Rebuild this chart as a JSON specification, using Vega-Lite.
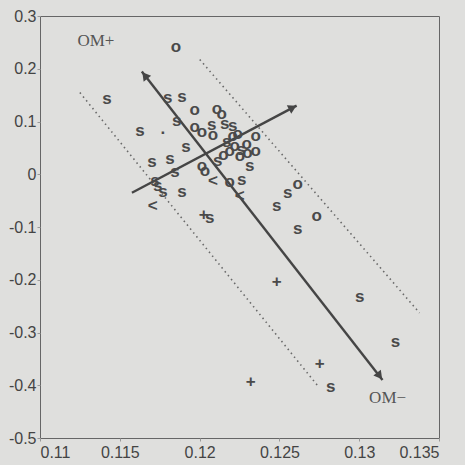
{
  "$schema": "https://vega.github.io/schema/vega-lite/v6.json",
  "width": 399,
  "height": 422,
  "autosize": "none",
  "padding": {"left": 40, "top": 16, "right": 26, "bottom": 27},
  "background": "#dfdfdd",
  "view": {"stroke": "#666666", "strokeWidth": 1},
  "config": {
    "axis": {
      "domain": false,
      "grid": false,
      "labelFont": "Liberation Sans",
      "labelFontSize": 16,
      "labelColor": "#444444",
      "tickColor": "#999999",
      "tickSize": 3,
      "title": null
    }
  },
  "datasets": {
    "pts": [
      {"x": 0.11851, "y": 0.2402, "sym": "o"},
      {"x": 0.11419, "y": 0.1415, "sym": "s"},
      {"x": 0.11801, "y": 0.1434, "sym": "s"},
      {"x": 0.11889, "y": 0.1453, "sym": "s"},
      {"x": 0.11970, "y": 0.1206, "sym": "o"},
      {"x": 0.12108, "y": 0.1225, "sym": "o"},
      {"x": 0.12139, "y": 0.1130, "sym": "o"},
      {"x": 0.11857, "y": 0.0998, "sym": "s"},
      {"x": 0.11970, "y": 0.0884, "sym": "o"},
      {"x": 0.12076, "y": 0.0922, "sym": "s"},
      {"x": 0.12014, "y": 0.0789, "sym": "o"},
      {"x": 0.12158, "y": 0.0941, "sym": "s"},
      {"x": 0.12208, "y": 0.0903, "sym": "s"},
      {"x": 0.11626, "y": 0.0808, "sym": "s"},
      {"x": 0.11770, "y": 0.0846, "sym": "."},
      {"x": 0.12083, "y": 0.0732, "sym": "o"},
      {"x": 0.12208, "y": 0.0713, "sym": "o"},
      {"x": 0.12239, "y": 0.0751, "sym": "o"},
      {"x": 0.12352, "y": 0.0713, "sym": "o"},
      {"x": 0.12170, "y": 0.0600, "sym": "s"},
      {"x": 0.12220, "y": 0.0520, "sym": "o"},
      {"x": 0.12260, "y": 0.0450, "sym": "s"},
      {"x": 0.12300, "y": 0.0380, "sym": "o"},
      {"x": 0.12150, "y": 0.0350, "sym": "o"},
      {"x": 0.11914, "y": 0.0504, "sym": "s"},
      {"x": 0.12295, "y": 0.0561, "sym": "o"},
      {"x": 0.12352, "y": 0.0428, "sym": "o"},
      {"x": 0.11701, "y": 0.0220, "sym": "s"},
      {"x": 0.11814, "y": 0.0277, "sym": "s"},
      {"x": 0.12189, "y": 0.0428, "sym": "o"},
      {"x": 0.12252, "y": 0.0333, "sym": "o"},
      {"x": 0.12314, "y": 0.0144, "sym": "s"},
      {"x": 0.12014, "y": 0.0144, "sym": "o"},
      {"x": 0.12033, "y": 0.0049, "sym": "o"},
      {"x": 0.11845, "y": 0.0030, "sym": "s"},
      {"x": 0.12114, "y": 0.0239, "sym": "s"},
      {"x": 0.12083, "y": -0.0141, "sym": "<"},
      {"x": 0.12189, "y": -0.0160, "sym": "o"},
      {"x": 0.12264, "y": -0.0122, "sym": "s"},
      {"x": 0.12252, "y": -0.0426, "sym": "<"},
      {"x": 0.11720, "y": -0.0141, "sym": "s"},
      {"x": 0.11738, "y": -0.0236, "sym": "s"},
      {"x": 0.11770, "y": -0.0350, "sym": "s"},
      {"x": 0.11889, "y": -0.0350, "sym": "s"},
      {"x": 0.11707, "y": -0.0616, "sym": "<"},
      {"x": 0.12483, "y": -0.0616, "sym": "s"},
      {"x": 0.12552, "y": -0.0369, "sym": "s"},
      {"x": 0.12615, "y": -0.0198, "sym": "o"},
      {"x": 0.12733, "y": -0.0806, "sym": "o"},
      {"x": 0.12615, "y": -0.1052, "sym": "s"},
      {"x": 0.12026, "y": -0.0787, "sym": "+"},
      {"x": 0.12064, "y": -0.0844, "sym": "s"},
      {"x": 0.12483, "y": -0.2058, "sym": "+"},
      {"x": 0.13003, "y": -0.2343, "sym": "s"},
      {"x": 0.13228, "y": -0.3197, "sym": "s"},
      {"x": 0.12752, "y": -0.3615, "sym": "+"},
      {"x": 0.12320, "y": -0.3956, "sym": "+"},
      {"x": 0.12821, "y": -0.4051, "sym": "s"}
    ],
    "segs": [
      {"x": 0.11638, "y": 0.1947, "x2": 0.13146, "y2": -0.3899, "kind": "arrow"},
      {"x": 0.11576, "y": -0.0350, "x2": 0.12608, "y2": 0.1301, "kind": "arrow"},
      {"x": 0.11250, "y": 0.1548, "x2": 0.12746, "y2": -0.4032, "kind": "bound"},
      {"x": 0.12001, "y": 0.2174, "x2": 0.13378, "y2": -0.2628, "kind": "bound"}
    ],
    "labels": [
      {"x": 0.11350, "y": 0.2530, "t": "OM+"},
      {"x": 0.13178, "y": -0.4241, "t": "OM−"}
    ]
  },
  "layer": [
    {
      "data": {"name": "segs"},
      "transform": [{"filter": "datum.kind === 'bound'"}],
      "mark": {"type": "rule", "color": "#6a6a6a", "strokeWidth": 1.6, "strokeDash": [1.5, 3.5]},
      "encoding": {
        "x": {"field": "x", "type": "quantitative", "scale": {"domain": [0.11, 0.135], "nice": false, "zero": false},
              "axis": {"values": [0.11, 0.115, 0.12, 0.125, 0.13, 0.135], "labelExpr": "toString(datum.value)", "labelPadding": 3}},
        "y": {"field": "y", "type": "quantitative", "scale": {"domain": [-0.5, 0.3], "nice": false, "zero": false},
              "axis": {"values": [-0.5, -0.4, -0.3, -0.2, -0.1, 0, 0.1, 0.2, 0.3], "labelExpr": "toString(datum.value)", "labelPadding": 1}},
        "x2": {"field": "x2"},
        "y2": {"field": "y2"}
      }
    },
    {
      "data": {"name": "segs"},
      "transform": [{"filter": "datum.kind === 'arrow'"}],
      "mark": {"type": "rule", "color": "#454545", "strokeWidth": 2.4},
      "encoding": {
        "x": {"field": "x", "type": "quantitative"},
        "y": {"field": "y", "type": "quantitative"},
        "x2": {"field": "x2"},
        "y2": {"field": "y2"}
      }
    },
    {
      "data": {"values": [{"x": 0.11657, "y": 0.1871}]},
      "mark": {"type": "point", "shape": "triangle-up", "filled": true, "color": "#454545", "opacity": 1, "size": 90, "angle": 322},
      "encoding": {"x": {"field": "x", "type": "quantitative"}, "y": {"field": "y", "type": "quantitative"}}
    },
    {
      "data": {"values": [{"x": 0.13128, "y": -0.3823}]},
      "mark": {"type": "point", "shape": "triangle-up", "filled": true, "color": "#454545", "opacity": 1, "size": 90, "angle": 142},
      "encoding": {"x": {"field": "x", "type": "quantitative"}, "y": {"field": "y", "type": "quantitative"}}
    },
    {
      "data": {"values": [{"x": 0.12583, "y": 0.1263}]},
      "mark": {"type": "point", "shape": "triangle-up", "filled": true, "color": "#454545", "opacity": 1, "size": 90, "angle": 62},
      "encoding": {"x": {"field": "x", "type": "quantitative"}, "y": {"field": "y", "type": "quantitative"}}
    },
    {
      "data": {"name": "pts"},
      "mark": {"type": "text", "font": "Liberation Sans", "fontSize": 17, "fontWeight": "bold", "color": "#4a4a4a", "align": "center", "baseline": "middle", "dy": -1},
      "encoding": {
        "x": {"field": "x", "type": "quantitative"},
        "y": {"field": "y", "type": "quantitative"},
        "text": {"field": "sym"}
      }
    },
    {
      "data": {"name": "labels"},
      "mark": {"type": "text", "font": "Liberation Serif", "fontSize": 17, "color": "#555555", "align": "center", "baseline": "middle"},
      "encoding": {
        "x": {"field": "x", "type": "quantitative"},
        "y": {"field": "y", "type": "quantitative"},
        "text": {"field": "t"}
      }
    }
  ]
}
